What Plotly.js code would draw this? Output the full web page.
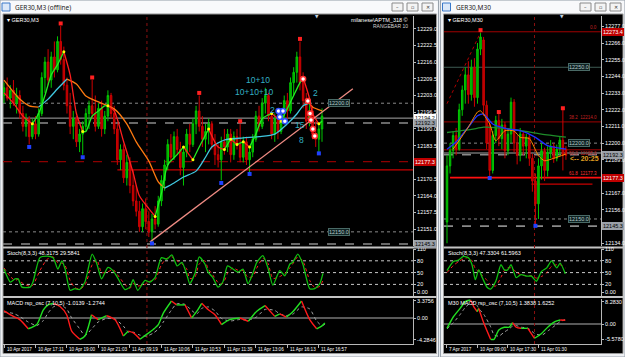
<!DOCTYPE html>
<html><head><meta charset="utf-8">
<script src="https://cdn.plot.ly/plotly-3.0.1.min.js"></script>
<style>html,body{margin:0;padding:0;background:#e6eaef;overflow:hidden}#chart{width:625px;height:357px}</style>
</head><body><div id="chart"></div>
<script>
// ---------- LEFT CHART: GER30,M3 (RANGEBAR 10) ----------
const leftOpen=[12203,12206,12202,12205,12200,12203,12196,12191,12194,12187,12192,12188,12196,12210,12216,12209,12218,12213,12224,12217,12207,12199,12191,12194,12185,12188,12191,12196,12199,12196,12191,12198,12190,12195,12203,12196,12190,12178,12182,12171,12177,12168,12162,12158,12152,12159,12154,12150,12155,12153,12162,12170,12176,12184,12179,12187,12182,12175,12181,12188,12184,12192,12197,12191,12186,12189,12192,12184,12180,12178,12185,12183,12188,12180,12187,12184,12179,12185,12178,12181,12186,12195,12191,12200,12203,12195,12188,12194,12189,12196,12201,12197,12208,12212,12218,12208,12201,12193,12197,12188,12186,12190];
const leftHigh=[12208,12210,12207,12209,12206,12205,12199,12196,12195,12194,12195,12198,12212,12218,12221,12220,12224,12226,12230,12222,12210,12204,12197,12195,12190,12193,12198,12201,12209,12203,12200,12201,12197,12205,12204,12199,12192,12184,12184,12180,12179,12174,12168,12162,12161,12163,12158,12157,12160,12164,12172,12178,12186,12188,12189,12190,12185,12183,12190,12192,12194,12199,12203,12195,12192,12194,12193,12188,12184,12187,12190,12190,12190,12189,12190,12192,12187,12187,12183,12188,12197,12199,12202,12206,12204,12197,12196,12196,12198,12203,12204,12210,12214,12220,12224,12212,12204,12200,12199,12193,12192,12198];
const leftLow=[12200,12201,12198,12199,12196,12194,12189,12187,12184,12186,12186,12187,12195,12204,12207,12206,12210,12212,12215,12205,12196,12188,12186,12183,12181,12180,12189,12190,12194,12189,12190,12187,12188,12193,12194,12188,12176,12174,12169,12168,12165,12160,12156,12150,12150,12151,12148,12146,12151,12152,12160,12166,12174,12177,12178,12180,12172,12168,12179,12181,12183,12188,12189,12183,12181,12184,12182,12176,12175,12170,12180,12181,12177,12178,12182,12177,12177,12176,12173,12179,12185,12189,12190,12196,12193,12186,12185,12186,12188,12192,12194,12196,12203,12208,12205,12198,12190,12191,12186,12183,12181,12185];
const leftClose=[12206,12202,12205,12200,12203,12196,12191,12194,12187,12192,12188,12196,12210,12216,12209,12218,12213,12224,12217,12207,12199,12191,12194,12185,12188,12191,12196,12199,12196,12191,12198,12190,12195,12203,12196,12190,12178,12182,12171,12177,12168,12162,12158,12152,12159,12154,12150,12155,12153,12162,12170,12176,12184,12179,12187,12182,12175,12181,12188,12184,12192,12197,12191,12186,12189,12192,12184,12180,12178,12185,12183,12188,12180,12187,12184,12179,12185,12178,12181,12186,12195,12191,12200,12203,12195,12188,12194,12189,12196,12201,12197,12208,12212,12218,12208,12201,12193,12197,12188,12186,12190,12195];

// fast MA (green up / red down) and slow MA (cyan up / orange down)
const leftFastX=[0,3,6,9,11,13,15,17,19,21,23,25,26,28,30,32,33,35,38,41,43,46,48,50,52,55,57,60,62,65,68,70,72,74,76,78,80,82,85,88,90,92,94,95,97,98,100,101];
const leftFastY=[12204,12200,12195,12192,12196,12203,12211,12215,12220,12211,12196,12189,12189,12195,12197,12199,12199,12197,12185,12173,12164,12159,12156,12165,12176,12180,12183,12178,12183,12190,12183,12182,12186,12184,12185,12183,12188,12194,12196,12193,12198,12203,12208,12210,12202,12196,12192,12193];
const leftSlowX=[0,5,8,11,14,17,20,23,26,30,35,39,42,46,49,51,54,57,61,64,66,70,76,81,86,90,93,95,97,98,101];
const leftSlowY=[12209,12201.6,12199,12198.5,12201.6,12205.6,12209.4,12207.5,12202.8,12200.5,12197.8,12192,12185,12177.5,12169.4,12167,12169,12171.3,12173.6,12179,12183,12185.7,12186.5,12187,12188,12192,12195.8,12199,12200,12198.5,12197];

const leftSwingHighX=[18,28,62,75,94], leftSwingHighY=[12231,12210,12204,12193,12225];
const leftSwingLowX=[8,25,47,69,78,100], leftSwingLowY=[12183,12179,12145.5,12169,12172.5,12180.5];
const leftBlueMarkX=[87.2,87.6,88.6,89.2], leftBlueMarkY=[12197,12194.6,12197,12193];
const leftRedMarkX=[95,96.5,97.2,97.5,98.1,98.7], leftRedMarkY=[12209.4,12200.9,12196,12193.5,12190,12187.3];
const leftTrendX=[46.3,110.8], leftTrendY=[12146,12205.6];

const leftNotes=['10+10','10+10+10','2','2','15','8'];
const leftNoteX=[80.6,79.7,85.4,99,94,94.6];
const leftNoteY=[12209.1,12204.4,12197.4,12204,12191.6,12185.7];

const leftDotLevels=[12200.0,12150.0];
const leftBid=12194.2, leftDashLevels=[12192.3,12145.3];
const leftRedDashLevel=12177.3, leftRedLevel=12174.1, leftRedLevelStart=36;
const leftSeparatorBar=45.4;

const leftPriceTicks=[12229.0,12222.5,12216.0,12209.5,12203.0,12196.5,12190.0,12183.5,12170.5,12164.0,12157.5,12151.0];
const leftTimeIdx=[0,10,20,30,40,50,60,70,80,90,100];
const leftTimeLabels=['10 Apr 2017','10 Apr 17:11','10 Apr 19:00','10 Apr 21:03','11 Apr 09:19','11 Apr 10:06','11 Apr 10:53','11 Apr 11:39','11 Apr 13:06','11 Apr 16:13','11 Apr 16:57'];

const leftStochX=[0,2,3.5,4.5,5.7,8.3,9.2,11.4,13.7,15.6,17.1,18.4,19.4,21,22.5,24,25.7,28,29.5,31,33,34.6,36,38.4,40,41,42.5,44.8,46.3,48,50,51.7,53.3,55,56.5,58,59,60.6,62,63.8,64.8,66.3,68,69.5,71,72.7,74.3,75.9,77.5,79,80.3,82.2,83.8,85.4,87.6,89.2,90.8,91.7,93.3,94.9,97.1,98.7,100.3,101.3];
const leftStochK=[59,26,34,34,13,13,26,88,92,88,59,80,59,5,9,7,26,97,72,34,63,55,38,7,13,32,5,30,26,38,88,84,95,67,76,47,22,47,90,72,51,38,13,26,67,59,51,59,22,47,76,93,63,18,55,42,72,76,97,72,9,9,22,48];
const leftStochD=[62,40,30,33,24,15,18,55,84,90,75,74,68,30,12,8,18,70,82,50,52,58,45,20,10,22,16,20,28,32,70,86,90,80,72,60,35,38,72,80,60,44,25,22,48,62,56,55,38,40,62,86,74,35,40,48,62,72,90,80,30,12,15,30];

const leftMacdX=[0,3,5,7.7,10.4,12.5,14,15.7,17.8,19.9,21.5,24.1,25.7,27.8,29.9,32.6,35.2,37.9,39.5,41,43.2,45.3,47.4,49,50.6,53.2,54.8,57.5,59.6,61.2,62.8,64.9,67,69.1,71.7,74.9,77.6,80.2,82.9,86,87.6,89.7,91.8,94.5,97.1,99.3,100.9,101.9];
const leftMacd=[1.43,0.32,-0.32,-2.14,-1.3,1.62,2.6,2.92,2.27,0.65,-2.6,-4.22,-3.57,0.65,-0.32,0.45,-0.32,-3.57,-2.6,-2.92,-4.22,-3.25,-2.27,-1.3,0.97,3.38,2.6,2.6,0,1.3,2.92,1.62,0.65,-1.3,-0.32,0,-0.65,1.3,2.47,0.32,0.84,0.19,1.3,3.38,-0.32,-2.14,-1.62,-1.01];
const leftMacdSig=[1.2,0.9,0.3,-0.8,-1.5,-0.5,1.0,2.2,2.6,1.8,0,-2.2,-3.5,-2.2,-0.8,-0.1,-0.2,-1.6,-2.8,-2.8,-3.4,-3.6,-3.0,-2.2,-0.8,1.6,2.8,2.7,1.5,0.8,1.9,2.2,1.4,-0.1,-0.6,-0.3,-0.4,0.2,1.7,1.5,0.8,0.5,0.8,2.2,1.8,-0.6,-1.5,-1.27];

// ---------- RIGHT CHART: GER30,M30 ----------
const rightOpen=[12148,12185,12195,12205,12196,12222,12235,12245,12232,12250,12230,12262,12268,12225,12212,12182,12205,12215,12203,12212,12195,12206,12227,12200,12192,12206,12198,12204,12190,12175,12160,12185,12195,12182,12194,12198,12190,12196,12202,12196];
const rightHigh=[12192,12200,12208,12210,12226,12238,12250,12254,12255,12256,12266,12273,12270,12228,12215,12208,12218,12220,12216,12214,12210,12230,12229,12205,12210,12208,12206,12206,12193,12180,12190,12200,12197,12198,12202,12200,12199,12204,12222,12198];
const rightLow=[12134,12180,12190,12192,12195,12218,12226,12226,12228,12224,12226,12258,12218,12196,12178,12180,12200,12198,12196,12190,12192,12200,12194,12186,12188,12192,12190,12185,12168,12146,12150,12176,12175,12178,12190,12187,12188,12192,12182,12189];
const rightClose=[12185,12195,12205,12196,12222,12235,12245,12232,12250,12230,12262,12270,12225,12200,12182,12205,12215,12203,12212,12195,12206,12227,12200,12192,12206,12198,12204,12190,12175,12160,12185,12195,12182,12194,12198,12190,12196,12202,12192,12192];

const rightGreenMaX=[0,8,12,20,25,31,39], rightGreenMaY=[12207,12209,12210.5,12209.5,12208,12206,12204];
const rightBlueMaX=[0,3,7,10,12,15,20,24,29,33,39], rightBlueMaY=[12196,12200.7,12210.6,12218,12219.2,12212.6,12209.3,12208.2,12203.8,12198.3,12196];
const rightOrangeMaX=[2,7,10,11,14,16,19,22,24,27,30,32,35,39], rightOrangeMaY=[12196,12210.6,12220.5,12221.3,12212.6,12201.6,12208.2,12208,12203.8,12203,12191.7,12188.4,12190,12192.8];
const rightSwingHighX=[11,17,38], rightSwingHighY=[12274.5,12220.5,12223];
const rightSwingLowX=[14,29], rightSwingLowY=[12177,12145.5];
const rightFibLineX=[0,11], rightFibLineY=[12226,12273];

const rightFibLevels=[12273.4,12214.0,12195.6], rightFibNames=['0.0','38.2  12214.0','50.0  12195.6'];
const rightFib618=12177.3, rightFib618Start=1;
const rightGrayGreenLevel=12250.0, rightDotLevels=[12200.0,12150.0];
const rightBid=12193.5, rightDashLevels=[12192.3,12145.3];
const rightShortRed=12173, rightShortRedX=[27.7,47.7];
const rightSeparatorBar=28.7;

const rightPriceTicks=[12277,12266,12255,12244,12233,12222,12211,12200,12189,12167,12156,12134];
const rightTimeIdx=[0,10,20,30];
const rightTimeLabels=['7 Apr 2017','10 Apr 09:00','10 Apr 17:30','11 Apr 01:30'];

const rightStochX=[0,2.1,3.8,5.4,7.1,8.2,9.3,10.4,11.6,13.2,14.3,16,17.7,18.8,19.9,21,22.7,24.3,26,27.7,29.3,31,32.7,34.3,36,37.1,38.8];
const rightStochK=[55,78,82,91,87,70,32,57,37,12,8,28,70,57,57,70,37,45,41,41,28,53,62,80,62,74,47];
const rightStochD=[50,68,78,85,88,80,60,52,42,30,18,16,38,55,62,62,52,44,42,42,36,40,50,66,70,70,62];
const rightMacdX=[0,2.1,4.3,6,7.7,8.8,9.9,10.4,12.1,14.3,15.4,17,18.8,20.4,21.5,22.7,24.3,26.5,28.7,31,33.2,35.4,37.1,38.8];
const rightMacd=[-1.6,2.7,5.8,8.3,8.9,6.4,4.6,5.8,0.25,-5.7,-5.7,-2.2,-1.2,-1.2,0.5,-1.2,-1.6,-1.6,-5.3,-3.5,-1,0.9,1.5,1.38];
const rightMacdSig=[-1.8,0.5,3.5,6.2,7.8,8.0,6.8,5.8,3.5,-1,-4,-4.5,-3,-1.8,-0.8,-0.6,-1.2,-1.5,-3.5,-4.2,-2.5,-0.6,0.9,1.63];

// ---------- drawing ----------
const W=625,H=357;
const fx=p=>p/W, fy=p=>1-p/H;
const F='Liberation Sans, Arial, sans-serif';
const traces=[];
const skip={hoverinfo:'skip',showlegend:false};

function candle(o,h,l,c,xa,ya){
  return Object.assign({type:'candlestick',x:c.map((_,i)=>i),open:o,high:h,low:l,close:c,xaxis:xa,yaxis:ya,
    increasing:{line:{color:'#00c800',width:1},fillcolor:'#00a000'},
    decreasing:{line:{color:'#d00000',width:1},fillcolor:'#b00000'},whiskerwidth:0},skip);
}
function runs(xs,ys,up,down,xa,ya,width,turnColor){
  const out=[];let cur=null,dir=0;const turns={x:[],y:[]};
  for(let k=1;k<xs.length;k++){
    const d=ys[k]>=ys[k-1]?1:-1;
    if(!cur||d!==dir){ if(cur){out.push(cur);turns.x.push(xs[k-1]);turns.y.push(ys[k-1]);} cur={x:[xs[k-1]],y:[ys[k-1]],dir:d};dir=d;}
    cur.x.push(xs[k]);cur.y.push(ys[k]);
  }
  out.push(cur);
  const t=out.map(r=>Object.assign({type:'scatter',mode:'lines',x:r.x,y:r.y,xaxis:xa,yaxis:ya,
    line:{color:r.dir>0?up:down,width:width,shape:'spline',smoothing:0.7}},skip));
  if(turnColor) t.push(Object.assign({type:'scatter',mode:'markers',x:turns.x,y:turns.y,xaxis:xa,yaxis:ya,marker:{color:turnColor,size:3}},skip));
  return t;
}
function line(x,y,xa,ya,color,width,dash){
  return Object.assign({type:'scatter',mode:'lines',x:x,y:y,xaxis:xa,yaxis:ya,line:{color:color,width:width,dash:dash||'solid',shape:'spline',smoothing:0.6}},skip);
}
function marks(x,y,xa,ya,opt){return Object.assign({type:'scatter',mode:'markers',x:x,y:y,xaxis:xa,yaxis:ya,marker:opt},skip);}

// left price
traces.push(candle(leftOpen,leftHigh,leftLow,leftClose,'x','y'));
traces.push(...runs(leftSlowX,leftSlowY,'#40c8e0','#ff7a10','x','y',1.3,null));
traces.push(...runs(leftFastX,leftFastY,'#22ee22','#ff1e1e','x','y',1.3,'#ffff00'));
traces.push(Object.assign({type:'scatter',mode:'lines',x:leftTrendX,y:leftTrendY,xaxis:'x',yaxis:'y',line:{color:'#f08c84',width:1.3}},skip));
traces.push(marks(leftSwingHighX,leftSwingHighY,'x','y',{symbol:'square',size:4,color:'#ff2020'}));
traces.push(marks(leftSwingLowX,leftSwingLowY,'x','y',{symbol:'square',size:4,color:'#2040ff'}));
traces.push(marks(leftBlueMarkX,leftBlueMarkY,'x','y',{symbol:'circle',size:5,color:'#ffffff',line:{color:'#3050ff',width:1.5}}));
traces.push(marks(leftRedMarkX,leftRedMarkY,'x','y',{symbol:'circle',size:5,color:'#ffffff',line:{color:'#ff3030',width:1.5}}));
// left stoch
traces.push(line(leftStochX,leftStochD,'x2','y2','#ff2020',1,'dot'));
traces.push(line(leftStochX,leftStochK,'x2','y2','#10c010',1.3));
// left macd
traces.push(line(leftMacdX,leftMacdSig,'x3','y3','#a0a0a0',1,'dot'));
traces.push(...runs(leftMacdX,leftMacd,'#22e022','#ff1a1a','x3','y3',1.4,null));

// right price
traces.push(candle(rightOpen,rightHigh,rightLow,rightClose,'x4','y4'));
traces.push(Object.assign({type:'scatter',mode:'lines',x:rightFibLineX,y:rightFibLineY,xaxis:'x4',yaxis:'y4',line:{color:'#b00000',width:1,dash:'dot'}},skip));
traces.push(line(rightGreenMaX,rightGreenMaY,'x4','y4','#1e8c2a',1.3));
traces.push(line(rightBlueMaX,rightBlueMaY,'x4','y4','#2030ff',1.3));
traces.push(line(rightOrangeMaX,rightOrangeMaY,'x4','y4','#ff8c00',1));
traces.push(marks(rightSwingHighX,rightSwingHighY,'x4','y4',{symbol:'square',size:4,color:'#ff2020'}));
traces.push(marks(rightSwingLowX,rightSwingLowY,'x4','y4',{symbol:'square',size:4,color:'#2040ff'}));
// right stoch / macd
traces.push(line(rightStochX,rightStochD,'x5','y5','#ff2020',1,'dot'));
traces.push(line(rightStochX,rightStochK,'x5','y5','#10c010',1.3));
traces.push(line(rightMacdX,rightMacdSig,'x6','y6','#a0a0a0',1,'dot'));
traces.push(...runs(rightMacdX,rightMacd,'#22e022','#ff1a1a','x6','y6',1.4,null));

// ---------- axes ----------
const tickFont={family:F,size:5.5,color:'#ffffff'};
const timeFont={family:F,size:4.6,color:'#ffffff'};
function yax(dom,range,tv,tt){
  return {domain:dom,range:range,side:'right',tickvals:tv,ticktext:tt,tickfont:tickFont,showgrid:false,zeroline:false,
    showline:true,linecolor:'#b8b8b8',linewidth:1,ticks:'outside',ticklen:2,tickcolor:'#b8b8b8',fixedrange:true};
}
function xax(dom,range,anchor,extra){
  return Object.assign({domain:dom,range:range,anchor:anchor,showgrid:false,zeroline:false,showticklabels:false,ticks:'',fixedrange:true,rangeslider:{visible:false}},extra||{});
}
const LX=[fx(3),fx(413)], RX=[fx(444),fx(601)];
const LR=[-0.32,129.9], RR=[-0.98,50.5];
const priceDom=[fy(246),fy(16)], stochDom=[fy(296),fy(249)], macdDom=[fy(344),fy(299)];

const layout={
  width:W,height:H,margin:{l:0,r:0,t:0,b:0},paper_bgcolor:'#e6eaef',plot_bgcolor:'rgba(0,0,0,0)',
  showlegend:false,dragmode:false,font:{family:F},
  xaxis:xax(LX,LR,'y'),
  yaxis:yax(priceDom,[12144.5,12233.9],leftPriceTicks,leftPriceTicks.map(v=>v.toFixed(1))),
  xaxis2:xax(LX,LR,'y2',{matches:'x'}),
  yaxis2:Object.assign(yax(stochDom,[-9.5,110],[110,80,50,20,0],['110','80','50','20','0.00']),{anchor:'x2'}),
  xaxis3:xax(LX,LR,'y3',{matches:'x',showline:true,linecolor:'#b8b8b8',ticks:'outside',ticklen:3,tickcolor:'#b8b8b8',tickvals:leftTimeIdx}),
  yaxis3:Object.assign(yax(macdDom,[-5.16,3.77],[3.3756,0,-4.2846],['3.3756','0.00','-4.2846']),{anchor:'x3'}),
  xaxis4:xax(RX,RR,'y4'),
  yaxis4:Object.assign(yax(priceDom,[12132.2,12283.8],rightPriceTicks,rightPriceTicks.map(v=>v.toFixed(1))),{anchor:'x4'}),
  xaxis5:xax(RX,RR,'y5',{matches:'x4'}),
  yaxis5:Object.assign(yax(stochDom,[-9.5,110],[110,80,50,20,0],['110','80','50','20','0.00']),{anchor:'x5'}),
  xaxis6:xax(RX,RR,'y6',{matches:'x4',showline:true,linecolor:'#b8b8b8',ticks:'outside',ticklen:3,tickcolor:'#b8b8b8',tickvals:rightTimeIdx}),
  yaxis6:Object.assign(yax(macdDom,[-7.43,9.29],[8.283,0,-5.578],['8.2830','0.00','-5.5780']),{anchor:'x6'}),
  shapes:[],annotations:[]
};
layout.yaxis.anchor='x';

const S=layout.shapes, A=layout.annotations;
function prect(x0,y0,x1,y1,fill,lc,lw){S.push({type:'rect',xref:'paper',yref:'paper',x0:fx(x0),x1:fx(x1),y0:fy(y1),y1:fy(y0),fillcolor:fill,line:{color:lc||fill,width:lw||0},layer:'below'});}
function hl(ya,xa,v,color,width,dash,x0,x1){
  if(x0===undefined) S.push({type:'line',xref:xa+' domain',yref:ya,x0:0,x1:1,y0:v,y1:v,line:{color:color,width:width,dash:dash},layer:'below'});
  else S.push({type:'line',xref:xa,yref:ya,x0:x0,x1:x1,y0:v,y1:v,line:{color:color,width:width,dash:dash},layer:'below'});
}
function txt(x,y,t,o){A.push(Object.assign({xref:'paper',yref:'paper',x:fx(x),y:fy(y),text:t,showarrow:false,xanchor:'left',yanchor:'middle',font:{family:F,size:5.5,color:'#ffffff'}},o||{}));}

// window chrome
function windowFrame(x0,x1,title,btnX){
  prect(x0,0,x1,357,'#eef0f3','#9aa3ad',1);
  prect(x0+1,1,x1-1,13,'#f8f9fb');
  prect(x0+2,3,x0+10,11,'#dbe8f8','#3a78c8',1);
  prect(x0+3,14,x1-2,353.5,'#000000','#9a9a9a',1);
  prect(x0+3,246.5,x1-2,248.5,'#c4c4c4');
  prect(x0+3,296,x1-2,298,'#c4c4c4');
  txt(x0+13,7,title,{font:{family:'Noto Sans, '+F,size:6.5,color:'#1a1a1a'}});
  btnX.forEach((bx,k)=>{prect(bx,3,bx+11,11,'#f4f4f4','#8a8a8a',1);
    txt(bx+5.5,7,['\u2013','\u25AB','\u2715'][k],{xanchor:'center',font:{family:'DejaVu Sans',size:5,color:'#333'}});});
}
windowFrame(0,438.5,'GER30,M3 (offline)',[392,407,422]);
windowFrame(440.5,625,'GER30,M30',[580,595,610]);

// time labels (left-aligned at their tick, MT4 style)
leftTimeIdx.forEach((v,k)=>A.push({xref:'x3',yref:'paper',x:v,y:fy(349),text:leftTimeLabels[k],showarrow:false,xanchor:'left',yanchor:'middle',xshift:0.5,font:timeFont}));
rightTimeIdx.forEach((v,k)=>A.push({xref:'x6',yref:'paper',x:v,y:fy(349),text:rightTimeLabels[k],showarrow:false,xanchor:'left',yanchor:'middle',xshift:0.5,font:timeFont}));

// left level lines
leftDotLevels.forEach(v=>hl('y','x',v,'#8a8a8a',1,'dot'));
hl('y','x',leftBid,'#a8a8a8',1,'solid');
leftDashLevels.forEach(v=>hl('y','x',v,'#8a8a8a',1.6,'dash'));
hl('y','x',leftRedDashLevel,'#8c0000',1.3,'dash');
hl('y','x',leftRedLevel,'#c80000',1.2,'solid',leftRedLevelStart,LR[1]);
S.push({type:'line',xref:'x',yref:'paper',x0:leftSeparatorBar,x1:leftSeparatorBar,y0:fy(344),y1:fy(15),line:{color:'#8c1010',width:1,dash:'dot'},layer:'below'});
[80,50,20].forEach(v=>{hl('y2','x2',v,'#c8c8c8',1,'dot');hl('y5','x5',v,'#c8c8c8',1,'dot');});
hl('y3','x3',0,'#b0b0b0',1,'solid'); hl('y6','x6',0,'#b0b0b0',1,'solid');

// right level lines
rightFibLevels.forEach(v=>hl('y4','x4',v,'#a00000',1,'solid'));
hl('y4','x4',rightGrayGreenLevel,'#3e5a52',1,'solid');
rightDotLevels.forEach(v=>hl('y4','x4',v,'#8a8a8a',1,'dot'));
hl('y4','x4',rightBid,'#a8a8a8',1,'solid');
rightDashLevels.forEach(v=>hl('y4','x4',v,'#8a8a8a',1.6,'dash'));
hl('y4','x4',rightFib618,'#ff1010',1.6,'solid',rightFib618Start,RR[1]);
hl('y4','x4',rightShortRed,'#c80000',1.2,'solid',rightShortRedX[0],rightShortRedX[1]);
S.push({type:'line',xref:'x4',yref:'paper',x0:rightSeparatorBar,x1:rightSeparatorBar,y0:fy(344),y1:fy(15),line:{color:'#8c1010',width:1,dash:'dot'},layer:'below'});

// pane labels
txt(5,19.5,'\u25BE GER30,M3'); txt(446,19.5,'\u25BE GER30,M30');
txt(5,253,'Stoch(8,3,3) 48.3175 29.5841'); txt(446,253,'Stoch(8,3,3) 47.3304 61.5963');
txt(5,302.5,'MACD rsp_osc (7,10,5) -1.0139 -1.2744'); txt(446,302.5,'M30 MACD rsp_osc (7,10,5) 1.3838 1.6252');
txt(410,20,'milanese\\APTM_318 \u00A9',{xanchor:'right'}); txt(410,26.5,'RANGEBAR 10',{xanchor:'right',font:{family:F,size:5,color:'#d0d0d0'}});
txt(317,16.5,'\u25BC',{xanchor:'center',font:{family:'DejaVu Sans',size:4.5,color:'#c0d0e0'}});
txt(562,16.5,'\u25BC',{xanchor:'center',font:{family:'DejaVu Sans',size:4.5,color:'#c0d0e0'}});

// note texts on left price pane
leftNotes.forEach((t,k)=>A.push({xref:'x',yref:'y',x:leftNoteX[k],y:leftNoteY[k],text:t,showarrow:false,xanchor:'center',yanchor:'middle',font:{family:F,size:8.5,color:'#33b0c4'}}));

// level-line labels
function boxAt(ya,xpx,v,t,bg,fg,bd,anchor){A.push({xref:'paper',yref:ya,x:fx(xpx),y:v,text:t,showarrow:false,xanchor:anchor||'left',yanchor:'middle',
  font:{family:F,size:5.5,color:fg},bgcolor:bg,bordercolor:bd,borderwidth:1,borderpad:0});}
boxAt('y',328,leftDotLevels[0],'12200.0','#0d2222','#b8c8c8','#4a6a66');
boxAt('y',328,leftDotLevels[1],'12150.0','#0d2222','#b8c8c8','#4a6a66');
boxAt('y4',568,rightGrayGreenLevel,'12250.0','#0d2222','#b8c8c8','#4a6a66');
boxAt('y4',568,rightDotLevels[0],'12200.0','#0d2222','#b8c8c8','#4a6a66');
boxAt('y4',568,rightDotLevels[1],'12150.0','#0d2222','#b8c8c8','#4a6a66');
// price-axis highlight boxes
boxAt('y',414,leftBid,'12194.2','#ffffff','#000000','#ffffff');
boxAt('y',414,leftDashLevels[0],'12192.3','#9aa0a8','#000000','#9aa0a8');
boxAt('y',414,leftRedDashLevel,'12177.3','#c00000','#ffffff','#c00000');
boxAt('y',414,leftDashLevels[1],'12145.3','#9aa0a8','#000000','#9aa0a8');
boxAt('y4',602,rightFibLevels[0],'12273.4','#c00000','#ffffff','#c00000');
boxAt('y4',602,rightDashLevels[0],'12192.3','#9aa0a8','#000000','#9aa0a8');
boxAt('y4',602,rightFib618,'12177.3','#c00000','#ffffff','#c00000');
boxAt('y4',602,rightDashLevels[1],'12145.3','#9aa0a8','#000000','#9aa0a8');
// fib level names (the 50.0 name sits just under its line to clear the 12200.0 label)
rightFibNames.forEach((t,k)=>A.push({xref:'paper',yref:'y4',x:fx(599),y:rightFibLevels[k],text:t,showarrow:false,xanchor:'right',
  yanchor:k===2?'top':'bottom',yshift:k===2?0.5:-0.5,font:{family:F,size:4.5,color:'#c02020'}}));
A.push({xref:'paper',yref:'y4',x:fx(599),y:rightFib618,text:'61.8  12177.3',showarrow:false,xanchor:'right',yanchor:'bottom',font:{family:F,size:4.5,color:'#ff3030'}});
A.push({xref:'paper',yref:'y4',x:fx(601),y:12190,text:'<-- 20:25',showarrow:false,xanchor:'right',yanchor:'middle',font:{family:F,size:7,color:'#e0a020',weight:'bold'}});

Plotly.newPlot('chart',traces,layout,{staticPlot:true,displayModeBar:false});
</script></body></html>
